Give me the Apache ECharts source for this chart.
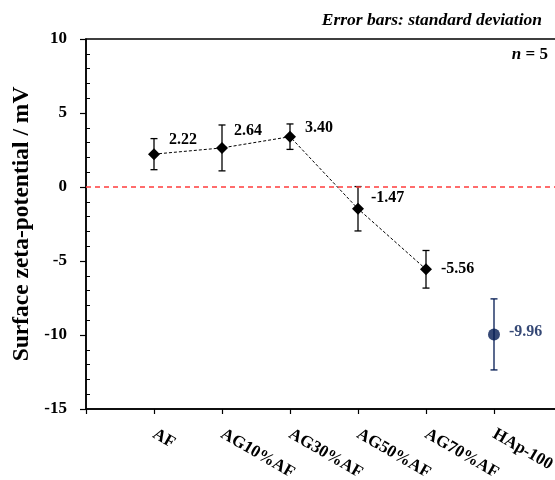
<!DOCTYPE html>
<html>
<head>
<meta charset="utf-8">
<script src="https://cdn.jsdelivr.net/npm/echarts@6/dist/echarts.min.js"></script>
<style>
html, body { margin: 0; padding: 0; background: #fff; }
#chart { width: 555px; height: 480px; }
</style>
</head>
<body>
<div id="chart"></div>
<script>
// DATA
const categories = ["AF", "AG10%AF", "AG30%AF", "AG50%AF", "AG70%AF", "HAp-100"];
const blendMeans = [2.22, 2.64, 3.40, -1.47, -5.56];
const blendSd = [1.05, 1.55, 0.86, 1.50, 1.27];
const hapMeans = [-9.96];
const hapSd = [2.40];
const yMin = -15, yMax = 10, yStep = 5;

const font = '"Liberation Serif", "Times New Roman", serif';
const navy = '#021a52';
// label nudges per point (style only)
const labelNudge = [[4, -14], [1, -17], [4, -9], [2, -11], [4, 0], [4, -3]];


function errorBar(color){
    return function(params, api){
        const x = api.value(0);
        const lo = api.coord([x, api.value(1)]);
        const hi = api.coord([x, api.value(2)]);
        const cap = 3.5;
        const style = {stroke: color, lineWidth: 1.3};
        return {
            type: 'group',
            children: [
                {type: 'line', shape: {x1: hi[0], y1: hi[1], x2: lo[0], y2: lo[1]}, style},
                {type: 'line', shape: {x1: hi[0] - cap, y1: hi[1], x2: hi[0] + cap, y2: hi[1]}, style},
                {type: 'line', shape: {x1: lo[0] - cap, y1: lo[1], x2: lo[0] + cap, y2: lo[1]}, style}
            ]
        };
    };
}

const blendPoints = blendMeans.map((v, i) => ({
    value: [i + 1, v],
    label: {offset: labelNudge[i]}
}));
const hapPoints = hapMeans.map((v, i) => ({
    value: [blendMeans.length + i + 1, v],
    label: {offset: labelNudge[blendMeans.length + i]}
}));
const blendBars = blendMeans.map((v, i) => [i + 1, v - blendSd[i], v + blendSd[i]]);
const hapBars = hapMeans.map((v, i) => [blendMeans.length + i + 1, v - hapSd[i], v + hapSd[i]]);

const chart = echarts.init(document.getElementById('chart'), null, {renderer: 'canvas'});

chart.setOption({
    animation: false,
    textStyle: {fontFamily: font},
    grid: {
        left: 86, top: 39, bottom: 71, width: 476,
        outerBoundsMode: 'none', containLabel: false,
        show: true, borderColor: '#000', borderWidth: 1.5, backgroundColor: 'transparent'
    },
    xAxis: {
        type: 'value', min: 0, max: categories.length + 1, interval: 1,
        splitLine: {show: false},
        axisLine: {onZero: false, lineStyle: {color: '#000', width: 1.5}},
        axisTick: {length: 5, lineStyle: {color: '#000', width: 1.2}},
        axisLabel: {
            rotate: -30, margin: 24, color: '#000',
            fontFamily: font, fontWeight: 'bold', fontSize: 17,
            formatter: (v) => categories[v - 1] || ''
        }
    },
    yAxis: [
        {
            type: 'value', min: yMin, max: yMax, interval: yStep,
            name: 'Surface zeta-potential / mV',
            nameLocation: 'middle', nameGap: 50,
            nameTextStyle: {fontFamily: font, fontWeight: 'bold', fontSize: 23.5, color: '#000'},
            splitLine: {show: false},
            axisLine: {onZero: false, lineStyle: {color: '#000', width: 1.5}},
            axisTick: {length: 6, lineStyle: {color: '#000', width: 1.2}},
            axisLabel: {margin: 19, color: '#000', fontFamily: font, fontWeight: 'bold', fontSize: 17}
        },
        {
            // minor ticks point inward
            type: 'value', min: yMin, max: yMax, interval: yStep, position: 'left',
            axisLine: {show: false, onZero: false}, axisLabel: {show: false}, splitLine: {show: false},
            axisTick: {show: false, inside: true},
            minorTick: {show: true, splitNumber: 5, length: 4, lineStyle: {color: '#000', width: 1}}
        }
    ],
    series: [
        {
            type: 'custom', renderItem: errorBar('#000'), data: blendBars,
            encode: {x: 0, y: [1, 2]}, z: 2, silent: true
        },
        {
            type: 'custom', renderItem: errorBar(navy), data: hapBars,
            encode: {x: 0, y: [1, 2]}, z: 2, silent: true
        },
        {
            type: 'line', data: blendPoints, z: 3,
            symbol: 'diamond', symbolSize: 12,
            itemStyle: {color: '#000'},
            lineStyle: {color: '#000', width: 1, type: [3, 2]},
            label: {
                show: true, position: 'right', color: '#000',
                fontFamily: font, fontWeight: 'bold', fontSize: 16,
                formatter: (p) => p.value[1].toFixed(2)
            },
            markLine: {
                silent: true, symbol: 'none', label: {show: false},
                lineStyle: {color: '#ff3d3d', width: 1.5, type: [5, 4]},
                data: [{yAxis: 0}]
            }
        },
        {
            type: 'scatter', data: hapPoints, z: 3,
            symbol: 'circle', symbolSize: 12,
            itemStyle: {color: navy},
            label: {
                show: true, position: 'right', color: navy,
                fontFamily: font, fontWeight: 'bold', fontSize: 16,
                formatter: (p) => p.value[1].toFixed(2)
            }
        }
    ],
    graphic: [
        {
            type: 'text', right: 13, top: 11,
            style: {
                text: 'Error bars: standard deviation', fill: '#000',
                font: 'italic bold 17.5px ' + font
            }
        },
        {
            type: 'text', right: 7, top: 46,
            style: {
                text: '{i|n} = 5', fill: '#000',
                font: 'bold 17px ' + font,
                rich: {i: {fontStyle: 'italic', fontWeight: 'bold', fontSize: 17, fontFamily: font}}
            }
        }
    ]
});
</script>
</body>
</html>
